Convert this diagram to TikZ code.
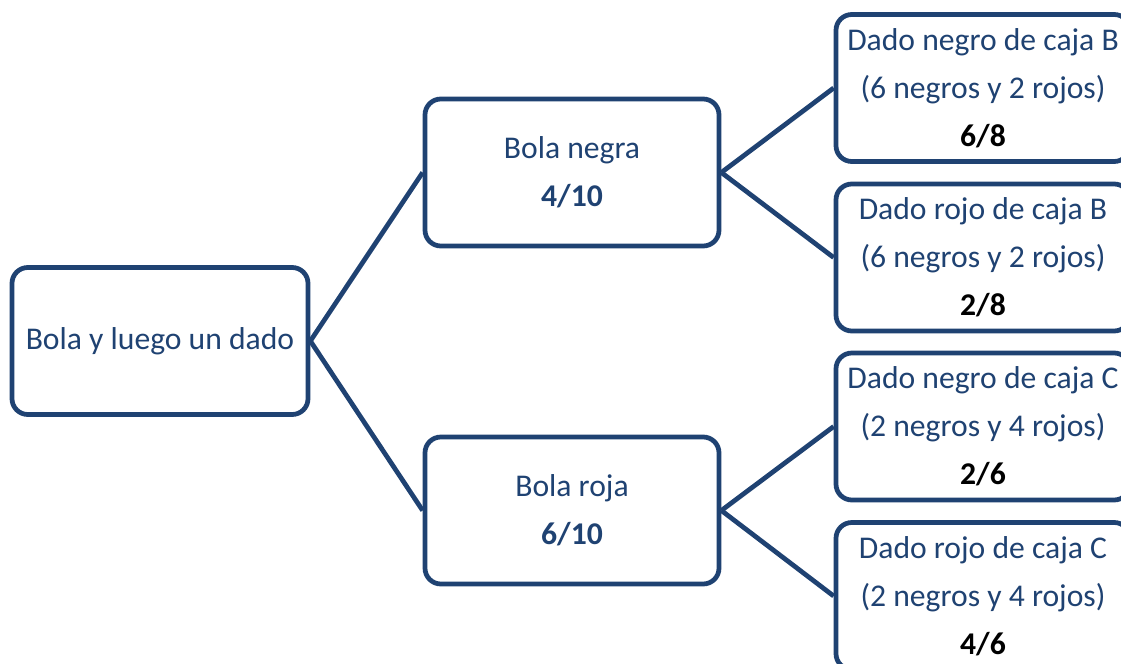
\documentclass[tikz,border=0pt]{standalone}
\usepackage{fontspec}
\setmainfont{Carlito}
\usepackage{xcolor}
\usepackage{tikz}
\usetikzlibrary{positioning, calc}
\definecolor{treeblue}{RGB}{31,66,114}

\begin{document}
\begin{tikzpicture}[
    caja/.style={draw=treeblue, line width=2.7pt, rounded corners=9pt, fill=white,
      minimum width=5.88cm, minimum height=2.94cm, align=center, text=treeblue,
      font=\fontsize{18}{27.3}\selectfont},
    rama/.style={treeblue, line width=2.7pt}]
  \useasboundingbox (0,0) rectangle (22.42,-13.28);
  \clip (0,0) rectangle (22.42,-13.28);
  \node[caja, minimum width=5.92cm] (raiz) at (3.2,-6.82) {Bola y luego un dado};
  \node[caja] (negra) at (11.44,-3.45) {Bola negra\\\textbf{4/10}};
  \node[caja] (roja) at (11.44,-10.21) {Bola roja\\\textbf{6/10}};
  \foreach \t/\c/\p/\y/\f/\src [count=\i] in {
      negro/B/{6 negros y 2 rojos}/-1.76/{6/8}/negra,
      rojo/B/{6 negros y 2 rojos}/-5.15/{2/8}/negra,
      negro/C/{2 negros y 4 rojos}/-8.53/{2/6}/roja,
      rojo/C/{2 negros y 4 rojos}/-11.92/{4/6}/roja} {
    \node[caja] (dado\i) at (19.66,\y)
      {Dado \t\ de caja \c\\(\p)\\\textcolor{black}{\textbf{\f}}};
    \draw[rama] (\src.east) -- (dado\i.west);
  }
  % ramas
  \draw[rama] (raiz.east) -- (negra.west);
  \draw[rama] (raiz.east) -- (roja.west);
\end{tikzpicture}
\end{document}
